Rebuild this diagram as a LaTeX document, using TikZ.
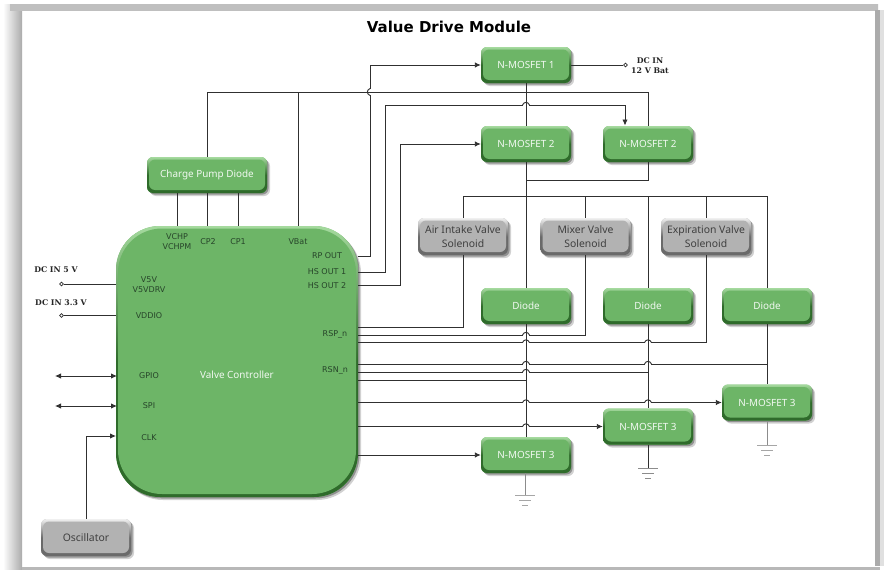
\documentclass[tikz,border=0pt]{standalone}
\usepackage{fontspec}
\setmainfont{DejaVu Sans}
\newfontfamily\boxfont{Noto Sans}
\newfontfamily\dcfont{DejaVu Serif}
\usepackage{tikz}
\usetikzlibrary{arrows.meta,shapes,positioning,shadows}
\definecolor{boxgreen}{HTML}{6DB567}
\definecolor{boxgreenhi}{HTML}{A5DA9E}
\definecolor{boxgreenlo}{HTML}{2F6B2B}
\definecolor{boxgrey}{HTML}{B2B2B2}
\definecolor{boxgreyhi}{HTML}{F0F0F0}
\definecolor{boxgreylo}{HTML}{6A6A6A}
\definecolor{wirecol}{HTML}{303030}
\definecolor{pincol}{HTML}{27452A}
\tikzset{style={>={Latex[length=6pt,width=5.5pt]}}}
\tikzset{wire/.style={draw=wirecol,line width=0.9pt}}
\tikzset{bevel/.style n args={4}{rounded corners=#4,fill=#1,
    general shadow={shadow xshift=3pt,shadow yshift=-3pt,opacity=.18,fill=black},
    general shadow={shadow xshift=1.5pt,shadow yshift=-1.5pt,opacity=.3,fill=black},
    path picture={
      \shade[top color=#2,bottom color=#3,middle color=#3]
        (path picture bounding box.south west) rectangle (path picture bounding box.north east);
      \fill[#1,rounded corners=#4]
        ([shift={(2pt,3pt)}]path picture bounding box.south west) rectangle
        ([shift={(-2pt,-2.5pt)}]path picture bounding box.north east);
    }}}
\tikzset{greenbox/.style={bevel={boxgreen}{boxgreenhi}{boxgreenlo}{6pt},minimum width=90pt,minimum height=36pt,
    inner sep=0pt,text=white!90!boxgreen,font=\boxfont\fontsize{9.9}{11}\selectfont\bfseries}}
\tikzset{greybox/.style={bevel={boxgrey}{boxgreyhi}{boxgreylo}{6pt},minimum width=90pt,minimum height=37pt,
    inner sep=0pt,align=center,text=black!75,font=\boxfont\fontsize{10.4}{14}\selectfont}}
\tikzset{ctrlbox/.style={bevel={boxgreen}{boxgreenhi}{boxgreenlo}{44pt},minimum width=242pt,minimum height=271pt,inner sep=0pt}}
\tikzset{pinlabel/.style={text=pincol,inner sep=0pt,font=\fontsize{8}{9}\selectfont}}
\tikzset{dclabel/.style={text=black!85,inner sep=0pt,align=center,font=\dcfont\fontsize{7.8}{10.5}\selectfont\bfseries}}
\tikzset{term/.style={circle,draw=wirecol,fill=white,line width=0.6pt,minimum size=3.8pt,inner sep=0pt}}
\newcommand{\hop}[2]{
  \draw[white,line width=1.4pt] (#1-3,#2) -- (#1+3,#2);
  \draw[wire] (#1,#2-3) -- (#1,#2+3);
  \draw[wire] (#1-3.5,#2) .. controls (#1-2,#2-3.5) and (#1+2,#2-3.5) .. (#1+3.5,#2);
}
\newcommand{\sidehop}[2]{
  \draw[white,line width=1.4pt] (#1,#2-3) -- (#1,#2+3);
  \draw[wire] (#1-3,#2) -- (#1+3,#2);
  \draw[wire] (#1,#2-3.5) .. controls (#1-3.5,#2-2) and (#1-3.5,#2+2) .. (#1,#2+3.5);
}
\newcommand{\ground}[2]{
  \draw[#2,line width=0.8pt] ([xshift=-10pt]#1) -- ([xshift=10pt]#1);
  \draw[#2,line width=0.8pt] ([shift={(-6pt,-5pt)}]#1) -- ([shift={(6pt,-5pt)}]#1);
  \draw[#2,line width=0.8pt] ([shift={(-3pt,-10pt)}]#1) -- ([shift={(3pt,-10pt)}]#1);
}
\begin{document}
\begin{tikzpicture}[x=1pt,y=-1pt]
    \useasboundingbox (0,0) rectangle (884,570);
    % frame
    \fill[white] (0,0) rectangle (884,570);
    \shade[left color=white,right color=black!33] (3,4) rectangle (22,570);
    \shade[left color=black!25,right color=black!25] (10,4) rectangle (878,10);
    \fill[black!33] (875,10) rectangle (880,566);
    \fill[black!12] (880,10) rectangle (884,566);
    \fill[black!28] (22,567) rectangle (880,570);

    \node[inner sep=0pt,font=\fontsize{15}{18}\selectfont\bfseries] (title) at (449,27) {Value Drive Module};

    \node[ctrlbox]  (ctrl)  at (237,361.5) {};
    \node[greenbox,minimum width=120pt] (cpd) at (207,175) {Charge Pump Diode};
    \node[greenbox] (nm1)   at (526,65)  {N-MOSFET 1};
    \node[greenbox] (nm2a)  at (526,144) {N-MOSFET 2};
    \node[greenbox] (nm2b)  at (648,144) {N-MOSFET 2};
    \node[greybox]  (air)   at (463,236.5) {Air Intake Valve\\Solenoid};
    \node[greybox]  (mixer) at (585.5,236.5) {Mixer Valve\\Solenoid};
    \node[greybox]  (expv)  at (706,236.5) {Expiration Valve\\Solenoid};
    \node[greenbox] (d1)    at (526,306) {Diode};
    \node[greenbox] (d2)    at (648,306) {Diode};
    \node[greenbox] (d3)    at (767,306) {Diode};
    \node[greenbox] (nm3c)  at (767,402.5) {N-MOSFET 3};
    \node[greenbox] (nm3b)  at (648,426.5) {N-MOSFET 3};
    \node[greenbox] (nm3a)  at (526,455) {N-MOSFET 3};
    \node[greybox]  (osc)   at (86,537.5) {Oscillator};

    \node[text=white!90!boxgreen,inner sep=0pt,font=\boxfont\fontsize{9.9}{11}\selectfont\bfseries] (vc) at (237,375) {Valve Controller};

    \node[pinlabel] (lvchp)  at (177,237) {VCHP};
    \node[pinlabel] (lvchpm) at (177,247) {VCHPM};
    \node[pinlabel] (lcp2)   at (208,242) {CP2};
    \node[pinlabel] (lcp1)   at (238,242) {CP1};
    \node[pinlabel] (lvbat)  at (298,242) {VBat};
    \node[pinlabel] (lrp)    at (327,256) {RP OUT};
    \node[pinlabel] (lhs1)   at (327,272) {HS OUT 1};
    \node[pinlabel] (lhs2)   at (327,286) {HS OUT 2};
    \node[pinlabel] (lrsp)   at (335,334) {RSP\_n};
    \node[pinlabel] (lrsn)   at (335,370) {RSN\_n};
    \node[pinlabel] (lv5v)   at (149,280) {V5V};
    \node[pinlabel] (lv5d)   at (149,290) {V5VDRV};
    \node[pinlabel] (lvdd)   at (149,316) {VDDIO};
    \node[pinlabel] (lgpio)  at (149,376) {GPIO};
    \node[pinlabel] (lspi)   at (149,406) {SPI};
    \node[pinlabel] (lclk)   at (149,438) {CLK};

    \node[dclabel] (ldc5)  at (56,270) {DC IN 5 V};
    \node[dclabel] (ldc33) at (61,303) {DC IN 3.3 V};
    \node[dclabel] (ldc12) at (650,65.5) {DC IN\\12 V Bat};

    \node[term] (t5)  at (61.5,284) {};
    \node[term] (t33) at (61.5,315.5) {};
    \node[term] (t12) at (625.5,65) {};

    \coordinate (prp)  at (358,256);
    \coordinate (phs1) at (358,272);
    \coordinate (phs2) at (358,285);
    \coordinate (prsa) at (358,327);
    \coordinate (prsb) at (358,335);
    \coordinate (prsc) at (358,342.5);
    \coordinate (prna) at (358,364);
    \coordinate (prnb) at (358,372);
    \coordinate (prnc) at (358,380);
    \coordinate (pg3c) at (358,402.5);
    \coordinate (pg3b) at (358,426.5);
    \coordinate (pg3a) at (358,455);
    \coordinate (pv5)  at (116,284);
    \coordinate (pv33) at (116,315.5);
    \coordinate (pgp)  at (117,376);
    \coordinate (pspi) at (117,406);
    \coordinate (pclk) at (116,436);
    \coordinate (gpe)  at (55,376);
    \coordinate (spe)  at (55,406);
    \coordinate (rail)  at (526,196);
    \coordinate (toprail) at (298,92);
    \coordinate (join)  at (526,180);
    \coordinate (g3a)  at (525,495);
    \coordinate (g3b)  at (648,468);
    \coordinate (g3c)  at (767,445);

    % supply side
    \draw[wire] (nm2b.north) |- (toprail);
    \draw[wire] (cpd.north) |- (toprail);
    \draw[wire] (toprail) -- (ctrl.north -| toprail);
    \draw[wire] (cpd.south -| lvchp) -- (ctrl.north -| lvchp);
    \draw[wire] (cpd.south) -- (ctrl.north -| cpd);
    \draw[wire] (cpd.south -| lcp1) -- (ctrl.north -| lcp1);
    \draw[wire,->] (prp) -- (370,256) |- (nm1.west);
    \draw[wire,->] (phs1) -- (385,272) |- (625,105) -- (625,125.5);
    \draw[wire,->] (phs2) -- (400,285) |- (nm2a.west);
    \draw[wire] (nm1.east) -- (t12);
    \draw[wire] (nm1.south) -- (nm2a.north);
    \draw[wire] (nm2a.south) -- (d1.north);
    \draw[wire] (join) -| (nm2b.south);
    \draw[wire] (air.north) |- (rail);
    \draw[wire] (rail) -| (mixer.north);
    \draw[wire] (rail) -| (d2.north);
    \draw[wire] (rail) -| (expv.north);
    \draw[wire] (rail) -| (d3.north);

    % solenoid returns and gates
    \draw[wire] (air.south) |- (prsa);
    \draw[wire] (mixer.south) |- (prsb);
    \draw[wire] (expv.south) |- (prsc);
    \draw[wire] (prna) -| (d3.south);
    \draw[wire] (prnb) -| (d2.south);
    \draw[wire] (prnc) -| (d1.south);
    \draw[wire] (d1.south) -- (nm3a.north);
    \draw[wire] (d2.south) -- (nm3b.north);
    \draw[wire] (d3.south) -- (nm3c.north);
    \draw[wire,->] (pg3c) -- (nm3c.west);
    \draw[wire,->] (pg3b) -- (nm3b.west);
    \draw[wire,->] (pg3a) -- (nm3a.west);

    \sidehop{370}{92}
    \hop{526}{105}
    \hop{526}{335}
    \hop{526}{342.5}
    \hop{648}{342.5}
    \hop{526}{364}
    \hop{648}{364}
    \hop{526}{372}
    \hop{526}{402.5}
    \hop{648}{402.5}
    \hop{526}{426.5}

    % left side
    \draw[wire] (t5) -- (pv5);
    \draw[wire] (t33) -- (pv33);
    \draw[wire,<->] (gpe) -- (pgp);
    \draw[wire,<->] (spe) -- (pspi);
    \draw[wire,->] (osc.north) |- (pclk);

    % grounds
    \draw[black!45,line width=0.8pt] (nm3a.south -| g3a) -- (g3a);
    \draw[wirecol,line width=0.8pt] (nm3b.south) -- (g3b);
    \draw[black!45,line width=0.8pt] (nm3c.south) -- (g3c);
    \ground{g3a}{black!35}
    \ground{g3b}{black!45}
    \ground{g3c}{black!35}
\end{tikzpicture}
\end{document}
